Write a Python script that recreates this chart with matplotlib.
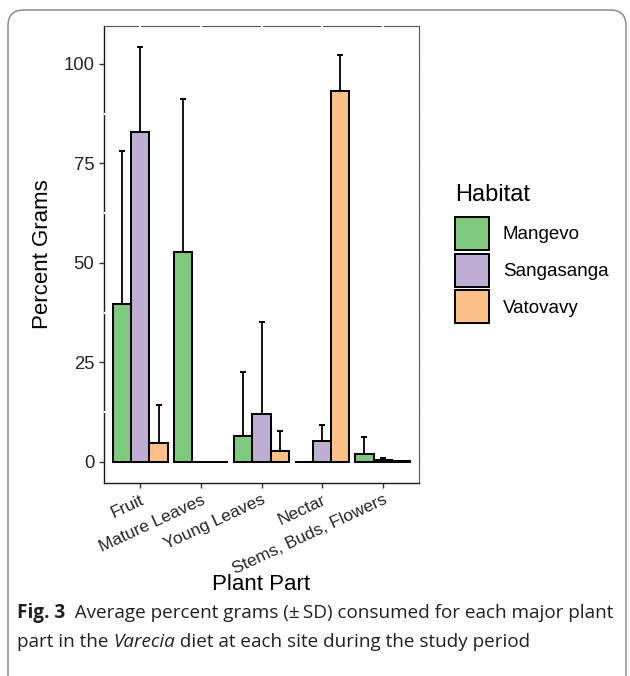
import matplotlib
matplotlib.use("Agg")
import matplotlib.pyplot as plt
import numpy as np
from matplotlib.patches import Patch, FancyBboxPatch

categories = ["Fruit", "Mature Leaves", "Young Leaves", "Nectar", "Stems, Buds, Flowers"]
habitats = ["Mangevo", "Sangasanga", "Vatovavy"]
mangevo_mean = [39.6, 52.8, 6.4, 0.0, 1.9]
mangevo_sd = [38.5, 38.5, 16.3, 0.0, 4.3]
sangasanga_mean = [82.9, 0.0, 12.0, 5.3, 0.4]
sangasanga_sd = [21.4, 0.0, 23.1, 4.0, 0.7]
vatovavy_mean = [4.8, 0.0, 2.65, 93.1, 0.15]
vatovavy_sd = [9.5, 0.0, 5.2, 9.1, 0.2]
colors = ["#7FC97F", "#BEAED4", "#FDC086"]
yticks = [0, 25, 50, 75, 100]

means = [mangevo_mean, sangasanga_mean, vatovavy_mean]
sds = [mangevo_sd, sangasanga_sd, vatovavy_sd]

W, H = 630, 676
fig = plt.figure(figsize=(W / 100, H / 100), dpi=100)
plt.rcParams['font.family'] = ['Liberation Sans', 'DejaVu Sans']

# outer rounded frame (runs past the bottom of the image)
frame = FancyBboxPatch((8 / W, -40 / H), 618 / W, (676 - 10 + 40) / H, transform=fig.transFigure,
                       boxstyle="round,pad=0,rounding_size=0.025", fill=False,
                       edgecolor="#8c8c8c", linewidth=1.1, mutation_aspect=W / H)
fig.patches.append(frame)

ax = fig.add_axes([104 / W, 1 - 482.7 / H, 315 / W, (482.7 - 26) / H])

x = np.arange(len(categories))
bw = 0.3
offsets = [-bw, 0, bw]
for i in range(3):
    m = np.array(means[i])
    s = np.array(sds[i])
    xs = x + offsets[i]
    ax.bar(xs, m, width=bw, color=colors[i], edgecolor="black", linewidth=1.45, zorder=3)
    mask = s > 0
    ax.errorbar(xs[mask], m[mask], yerr=[np.zeros(mask.sum()), s[mask]], fmt="none",
                ecolor="black", elinewidth=1.3, capsize=1.9, capthick=1.4, zorder=2.9)

ymax = max(np.max(np.array(means[i]) + np.array(sds[i])) for i in range(3))
ax.set_ylim(-0.05 * ymax, 1.05 * ymax)
ax.set_xlim(-0.6, len(categories) - 0.4)

ax.set_yticks(yticks)
ax.set_yticklabels([str(v) for v in yticks], fontsize=13.3, color="#262626")
ax.set_xticks(x)
ax.set_xticklabels(categories, rotation=25, ha="right", va="top", rotation_mode="anchor",
                   fontsize=12.5, color="#262626")
ax.tick_params(axis="both", length=3.5, width=1.0, color="#333333")
ax.tick_params(axis="y", pad=3.5)
ax.tick_params(axis="x", pad=3.5)

for side in ["left", "bottom"]:
    ax.spines[side].set_color("#1a1a1a")
    ax.spines[side].set_linewidth(1.0)
for side in ["top", "right"]:
    ax.spines[side].set_color("#555555")
    ax.spines[side].set_linewidth(0.8)

# white grid gaps on the panel border (ggplot-like rendering)
minor = [(yticks[k] + yticks[k + 1]) / 2 for k in range(len(yticks) - 1)]
minor.append(yticks[-1] + (yticks[1] - yticks[0]) / 2)
for yv in minor:
    ax.axhline(yv, color="white", linewidth=1.6, zorder=2.6)
for yv in yticks:
    ax.axhline(yv, xmin=0.5, xmax=1.0, color="white", linewidth=1.6, zorder=2.6)
for xv in x:
    ax.axvline(xv, ymin=0.5, ymax=1.0, color="white", linewidth=1.6, zorder=2.6)

ax.set_ylabel("Percent Grams", fontsize=16, color="black")
ax.yaxis.set_label_coords(-0.195, 0.5)
ax.set_xlabel("Plant Part", fontsize=16, color="black")
ax.xaxis.set_label_coords(0.5, -0.222)
ax.xaxis.label.set_va("center")
ax.yaxis.label.set_va("center")

fig.text(455 / W, 1 - 195 / H, "Habitat", fontsize=17, color="black", ha="left", va="center")
handles = [Patch(facecolor=colors[i], edgecolor="black", linewidth=1.4, label=habitats[i]) for i in range(3)]
leg = ax.legend(handles=handles, loc="upper left",
                bbox_to_anchor=(455 / W, 1 - 217 / H), bbox_transform=fig.transFigure,
                frameon=False, fontsize=13.5,
                handlelength=1.81, handleheight=2.33, labelspacing=0.2,
                handletextpad=0.75, borderpad=0, borderaxespad=0)

# caption
renderer = fig.canvas.get_renderer()
cap_family = ["Open Sans", "DejaVu Sans"]
cfs = 13.6
y1 = 1 - 618 / H
y2 = 1 - 647 / H

def run(parts, y):
    xpos = 17 / W
    for txt, weight, style in parts:
        t = fig.text(xpos, y, txt, fontsize=cfs, family=cap_family, weight=weight,
                     style=style, color="#231f20", va="baseline", ha="left")
        bb = t.get_window_extent(renderer=renderer)
        xpos = bb.x1 / W

run([("Fig. 3", "bold", "normal"),
     ("  Average percent grams (\u00b1\u2009SD) consumed for each major plant", "normal", "normal")], y1)
run([("part in the ", "normal", "normal"), ("Varecia", "normal", "italic"),
     (" diet at each site during the study period", "normal", "normal")], y2)

fig.savefig("out.png", dpi=100)
